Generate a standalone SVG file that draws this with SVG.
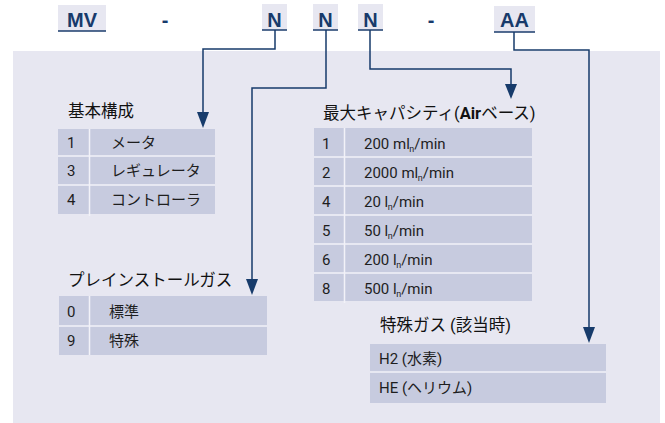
<svg xmlns="http://www.w3.org/2000/svg" width="665" height="423" viewBox="0 0 665 423">
<defs>
<style>
.hdrbox{fill:#e7e7f1}
.hdrline{stroke:#1b3d6d;stroke-width:1.5}
.hdr{font-family:"Liberation Sans",Arial,sans-serif;font-weight:bold;font-size:20px;fill:#173a6b;text-anchor:middle}
.cell{fill:#c7cbdf}
.sep{stroke:#f2f2f8;stroke-width:1.5}
.t{font-family:Roboto,"Noto Sans CJK JP",sans-serif;font-size:15px;fill:#1e1e1e}
.title{font-family:Roboto,"Noto Sans CJK JP",sans-serif;font-size:16.5px;fill:#111}
.conn{fill:none;stroke:#173b6b;stroke-width:1.5}
</style>
<marker id="arr" viewBox="0 0 12 16" refX="6" refY="16" markerWidth="12" markerHeight="16" markerUnits="userSpaceOnUse" orient="auto-start-reverse">
<path d="M0,0 L12,0 L6,16 Z" fill="#173b6b" transform="rotate(-90 6 8)"/>
</marker>
</defs>
<rect x="13" y="51" width="647" height="372" fill="#e7e7f1"/>

<g id="header">
<g id="h-mv"><rect class="hdrbox" x="58" y="5" width="48" height="26"/><line class="hdrline" x1="58" y1="31" x2="106" y2="31"/><text class="hdr" x="82" y="26.5">MV</text></g>
<text class="hdr" x="165" y="26.5">-</text>
<g id="h-n1"><rect class="hdrbox" x="262" y="4" width="25" height="26"/><line class="hdrline" x1="262" y1="30" x2="287" y2="30"/><text class="hdr" x="274.5" y="26.5">N</text></g>
<g id="h-n2"><rect class="hdrbox" x="313" y="4" width="25" height="26"/><line class="hdrline" x1="313" y1="30" x2="338" y2="30"/><text class="hdr" x="325.5" y="26.5">N</text></g>
<g id="h-n3"><rect class="hdrbox" x="358" y="4" width="25" height="26"/><line class="hdrline" x1="358" y1="30" x2="383" y2="30"/><text class="hdr" x="370.5" y="26.5">N</text></g>
<text class="hdr" x="431" y="26.5">-</text>
<g id="h-aa"><rect class="hdrbox" x="494" y="6" width="41" height="26"/><line class="hdrline" x1="494" y1="32" x2="535" y2="32"/><text class="hdr" x="514.5" y="27">AA</text></g>
</g>

<g id="connectors">
<path class="conn" d="M275,30 V49 H203 V112"/>
<path d="M197,112 H209 L203,128 Z" fill="#173b6b"/>
<path class="conn" d="M326,30 V88 H252 V279"/>
<path d="M246,279 H258 L252,295 Z" fill="#173b6b"/>
<path class="conn" d="M370,30 V69 H511 V84"/>
<path d="M505,84 H517 L511,99 Z" fill="#173b6b"/>
<path class="conn" d="M514,32 V50 H589 V327"/>
<path d="M583,327 H595 L589,343 Z" fill="#173b6b"/>
</g>

<g id="basic-config">
<text class="title" x="68" y="117">基本構成</text>
<rect class="cell" x="58" y="129" width="157" height="85"/>
<line class="sep" x1="58" y1="156" x2="215" y2="156"/>
<line class="sep" x1="58" y1="185" x2="215" y2="185"/>
<line class="sep" x1="89.5" y1="129" x2="89.5" y2="216"/>
<text class="t" x="67" y="147.5">1</text><text class="t" x="111" y="147.5">メータ</text>
<text class="t" x="67" y="176">3</text><text class="t" x="111" y="176">レギュレータ</text>
<text class="t" x="67" y="205">4</text><text class="t" x="111" y="205">コントローラ</text>
</g>

<g id="capacity">
<text class="title" x="323" y="119">最大キャパシティ(<tspan font-weight="bold">Air</tspan>ベース)</text>
<rect class="cell" x="314" y="128" width="218" height="173"/>
<line class="sep" x1="314" y1="157" x2="532" y2="157"/>
<line class="sep" x1="314" y1="186" x2="532" y2="186"/>
<line class="sep" x1="314" y1="215" x2="532" y2="215"/>
<line class="sep" x1="314" y1="244" x2="532" y2="244"/>
<line class="sep" x1="314" y1="273" x2="532" y2="273"/>
<line class="sep" x1="344.5" y1="128" x2="344.5" y2="303"/>
<text class="t" x="322" y="149">1</text><text class="t" x="364" y="149">200 ml<tspan font-size="9" dy="3" dx="-0.5">n</tspan><tspan dy="-3">/min</tspan></text>
<text class="t" x="322" y="178">2</text><text class="t" x="364" y="178">2000 ml<tspan font-size="9" dy="3" dx="-0.5">n</tspan><tspan dy="-3">/min</tspan></text>
<text class="t" x="322" y="207">4</text><text class="t" x="364" y="207">20 l<tspan font-size="9" dy="3" dx="-0.5">n</tspan><tspan dy="-3">/min</tspan></text>
<text class="t" x="322" y="236">5</text><text class="t" x="364" y="236">50 l<tspan font-size="9" dy="3" dx="-0.5">n</tspan><tspan dy="-3">/min</tspan></text>
<text class="t" x="322" y="265">6</text><text class="t" x="364" y="265">200 l<tspan font-size="9" dy="3" dx="-0.5">n</tspan><tspan dy="-3">/min</tspan></text>
<text class="t" x="322" y="294">8</text><text class="t" x="364" y="294">500 l<tspan font-size="9" dy="3" dx="-0.5">n</tspan><tspan dy="-3">/min</tspan></text>
</g>

<g id="preinstalled-gas">
<text class="title" x="68" y="286">プレインストールガス</text>
<rect class="cell" x="59" y="296" width="208" height="59"/>
<line class="sep" x1="59" y1="326" x2="267" y2="326"/>
<line class="sep" x1="89.5" y1="296" x2="89.5" y2="355"/>
<text class="t" x="67" y="316.5">0</text><text class="t" x="109" y="316.5">標準</text>
<text class="t" x="67" y="346">9</text><text class="t" x="109" y="346">特殊</text>
</g>

<g id="special-gas">
<text class="title" x="380" y="331">特殊ガス (該当時)</text>
<rect class="cell" x="370" y="344" width="236" height="59"/>
<line class="sep" x1="370" y1="372" x2="606" y2="372"/>
<text class="t" x="379" y="363.5">H2 (水素)</text>
<text class="t" x="379" y="393">HE (ヘリウム)</text>
</g>
</svg>
